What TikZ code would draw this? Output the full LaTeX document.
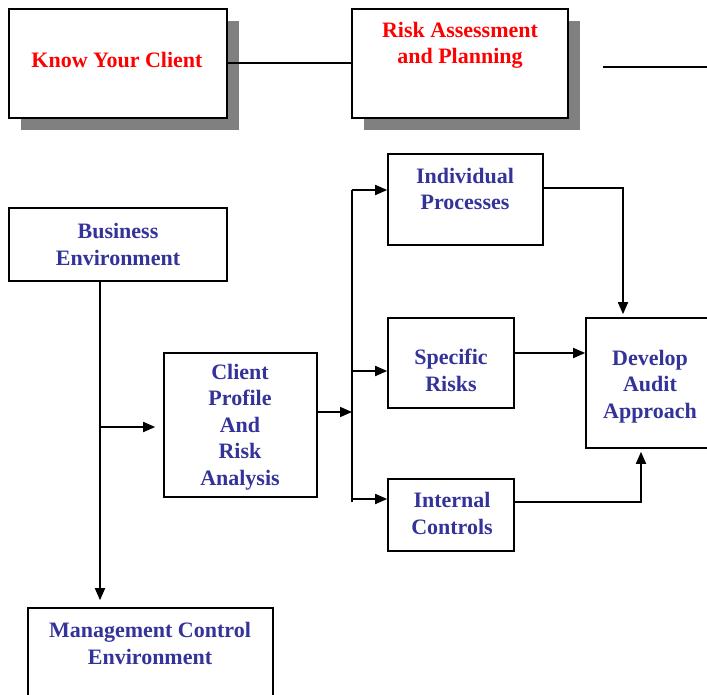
\documentclass[tikz,border=0pt]{standalone}
\usepackage{fontspec}
\setmainfont{Liberation Serif}
\usetikzlibrary{arrows.meta,shadows}
\definecolor{txtblue}{RGB}{51,51,153}
\definecolor{shadowgray}{RGB}{128,128,128}
\tikzset{
  box/.style={draw=black, line width=1.6pt, fill=white, inner sep=0pt},
  shbox/.style={box, drop shadow={shadow xshift=12pt, shadow yshift=-12pt, opacity=1, fill=shadowgray}},
  lbl/.style={align=center, inner sep=0pt, font=\bfseries\fontsize{22}{26.5}\selectfont, text=txtblue},
  redlbl/.style={lbl, text=red},
  conn/.style={draw=black, line width=1.7pt},
  arr/.style={conn, -{Triangle[length=12pt,width=10pt]}}
}
\begin{document}
\begin{tikzpicture}[x=1pt,y=-1pt]
\clip (0,0) rectangle (707,695);
\fill[white] (0,0) rectangle (707,695);
% boxes
\node[shbox, minimum width=218pt, minimum height=109pt] (kyc) at (118,63.5) {};
\node[shbox, minimum width=216pt, minimum height=109pt] (rap) at (460,63.5) {};
\node[box, minimum width=218pt, minimum height=73pt] (be) at (118,244.5) {};
\node[box, minimum width=153pt, minimum height=144pt] (cp) at (240.5,425) {};
\node[box, minimum width=155pt, minimum height=91pt] (ip) at (465.5,199.5) {};
\node[box, minimum width=126pt, minimum height=90pt] (sr) at (451,363) {};
\node[box, minimum width=126pt, minimum height=72pt] (ic) at (451,515) {};
\node[box, minimum width=134pt, minimum height=130pt] (daa) at (653,383) {};
\node[box, minimum width=245pt, minimum height=102pt] (mce) at (150.5,659) {};
% labels
\node[redlbl] (kyct) at (117,60) {Know Your Client};
\node[redlbl] (rapt) at (460,45.5) {Risk Assessment\\and Planning};
\node[lbl] (bet) at (118,244.5) {Business\\Environment};
\node[lbl] (cpt) at (240,427) {Client\\Profile\\And\\Risk\\Analysis};
\node[lbl] (ipt) at (465,189) {Individual\\Processes};
\node[lbl] (srt) at (451,370.5) {Specific\\Risks};
\node[lbl] (daat) at (650,386.5) {Develop\\Audit\\Approach};
\node[lbl] (ict) at (452,513.5) {Internal\\Controls};
\node[lbl] (mcet) at (150,643.5) {Management Control\\Environment};
% coordinates
\coordinate (c0) at (300,63);
\coordinate (l1) at (603,67);
\coordinate (l2) at (707,67);
\coordinate (j1) at (100,427);
\coordinate (t) at (352,412);
\coordinate (ttop) at (352,190);
\coordinate (tmid) at (352,371);
\coordinate (tlow) at (352,499);
\coordinate (tbot) at (352,502);
\coordinate (c1) at (623,188);
\coordinate (c2) at (514,353);
\coordinate (c3) at (641,502);
% connectors
\draw[conn] (kyc.east |- c0) -- (rap.west |- c0);
\draw[conn] (l1) -- (l2);
\draw[arr, shorten >=7pt] (be.south -| j1) -- (mce.north -| j1);
\draw[arr, shorten >=8pt] (j1) -- (cp.west |- j1);
\draw[arr] (cp.east |- t) -- (t);
\draw[conn] (ttop) -- (tbot);
\draw[arr] (ttop) -- (ip.west |- ttop);
\draw[arr] (tmid) -- (sr.west |- tmid);
\draw[arr] (tlow) -- (ic.west |- tlow);
\draw[arr, shorten >=3pt] (ip.east |- c1) -- (c1) -- (daa.north -| c1);
\draw[arr] (c2) -- (daa.west |- c2);
\draw[arr, shorten >=3pt] (ic.east |- c3) -- (c3) -- (daa.south -| c3);
\end{tikzpicture}
\end{document}
